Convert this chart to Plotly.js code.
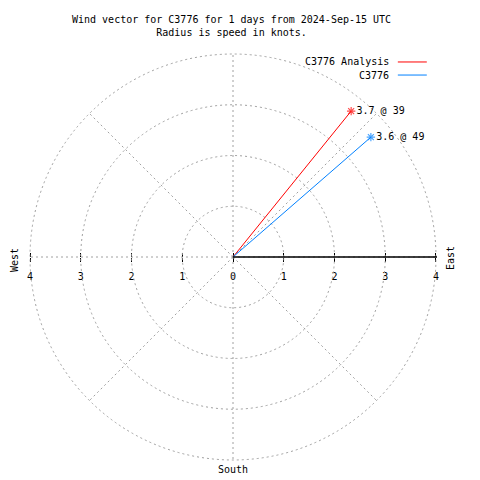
<!DOCTYPE html>
<html>
<head>
<meta charset="utf-8">
<script src="https://cdn.plot.ly/plotly-3.0.1.min.js"></script>
<style>html,body{margin:0;padding:0;background:#fff;}#chart{width:480px;height:480px;}</style>
</head>
<body>
<div id="chart"></div>
<script>
// Data
const seriesNames = ["C3776 Analysis", "C3776"];
const speedsKnots = [3.7, 3.6];
const directionsDeg = [39, 49];
const seriesColors = ["#ff0000", "#0080ff"];
const radialTicks = [0, 1, 2, 3, 4];
const axisTickVals = [-4, -3, -2, -1, 0, 1, 2, 3, 4];
const axisTickText = ["4", "3", "2", "1", "0", "1", "2", "3", "4"];
const compassLabels = ["West", "East", "South"];
const titleLines = ["Wind vector for C3776 for 1 days from 2024-Sep-15 UTC", "Radius is speed in knots."];

const FONT = "DejaVu Sans Mono, Liberation Mono, monospace";
const FS = 10;
const GRID = "#a0a0a0";
const RMAX = 4.02;

const traces = seriesNames.map((name, i) => ({
  type: "scatterpolar",
  name: name,
  r: [0, speedsKnots[i]],
  theta: [directionsDeg[i], directionsDeg[i]],
  mode: "lines+markers+text",
  line: {color: seriesColors[i], width: 1},
  marker: {symbol: "asterisk-open", size: [0, 7], color: seriesColors[i], line: {color: seriesColors[i], width: 1.2}},
  text: ["", speedsKnots[i].toFixed(1) + " @ " + directionsDeg[i]],
  textposition: "middle right",
  textfont: {family: FONT, size: FS, color: "#000"},
  showlegend: false,
  hoverinfo: "skip"
}));

// invisible helpers so the cartesian axes get drawn
traces.push({type: "scatter", x: [axisTickVals[0], axisTickVals[axisTickVals.length - 1]], y: [0, 0],
  mode: "none", showlegend: false, hoverinfo: "skip", xaxis: "x", yaxis: "y"});
traces.push({type: "scatter", x: [axisTickVals[0], axisTickVals[axisTickVals.length - 1]], y: [0, 0],
  mode: "none", showlegend: false, hoverinfo: "skip", xaxis: "x2", yaxis: "y"});

const txtFont = {family: FONT, size: FS, color: "#000"};
const annotations = [
  {text: titleLines.join("<br>"), xref: "paper", yref: "paper", x: 0.496, y: 1.1, xanchor: "center", yanchor: "top",
   showarrow: false, font: txtFont},
  {text: compassLabels[0], xref: "paper", yref: "paper", x: -0.034, y: 0.493, xanchor: "center", yanchor: "middle",
   textangle: -90, showarrow: false, font: txtFont},
  {text: compassLabels[1], xref: "paper", yref: "paper", x: 1.032, y: 0.4975, xanchor: "center", yanchor: "middle",
   textangle: -90, showarrow: false, font: txtFont},
  {text: compassLabels[2], xref: "paper", yref: "paper", x: 0.5, y: -0.022, xanchor: "center", yanchor: "middle",
   showarrow: false, font: txtFont}
];
const shapes = [];
const legendY = [0.978, 0.946];
seriesNames.forEach((name, i) => {
  annotations.push({text: name, xref: "paper", yref: "paper", x: 0.887, y: legendY[i], xanchor: "right", yanchor: "middle",
    showarrow: false, font: txtFont});
  shapes.push({type: "line", xref: "paper", yref: "paper", x0: 0.904, x1: 0.975, y0: legendY[i], y1: legendY[i],
    line: {color: seriesColors[i], width: 1}});
});

const layout = {
  width: 480, height: 480,
  margin: {l: 29, r: 43, t: 53, b: 19},
  paper_bgcolor: "#fff", plot_bgcolor: "rgba(0,0,0,0)",
  showlegend: false,
  font: txtFont,
  polar: {
    domain: {x: [0, 1], y: [0, 1]},
    bgcolor: "rgba(0,0,0,0)",
    angularaxis: {rotation: 90, direction: "clockwise", tickmode: "array",
      tickvals: [0, 45, 90, 135, 180, 225, 270, 315], showticklabels: false, ticks: "",
      showgrid: true, gridcolor: GRID, griddash: "2px,3px", gridwidth: 1, showline: false},
    radialaxis: {range: [0, RMAX], angle: 0, side: "clockwise", tickmode: "array", tickvals: radialTicks,
      ticks: "", showticklabels: false, showline: true, linecolor: "#000", linewidth: 1.5, showgrid: true,
      gridcolor: GRID, griddash: "2px,3px", gridwidth: 1}
  },
  xaxis: {domain: [0, 1], range: [-RMAX, RMAX], anchor: "free", position: 0.5, showgrid: false, zeroline: false,
    showline: false, ticks: "outside", ticklen: 4, tickcolor: "#000", tickwidth: 1, tickmode: "array",
    ticklabelstandoff: 6, tickvals: axisTickVals, ticktext: axisTickText, tickfont: txtFont, fixedrange: true},
  xaxis2: {domain: [0, 1], range: [-RMAX, RMAX], anchor: "free", position: 0.5, overlaying: "x", showgrid: false,
    zeroline: false, showline: false, ticks: "inside", ticklen: 4, tickcolor: "#000", tickwidth: 1,
    tickmode: "array", tickvals: axisTickVals, showticklabels: false, fixedrange: true},
  yaxis: {domain: [0, 1], range: [-1, 1], visible: false, fixedrange: true},
  annotations: annotations,
  shapes: shapes
};

Plotly.newPlot("chart", traces, layout, {staticPlot: true, displayModeBar: false});
</script>
</body>
</html>
